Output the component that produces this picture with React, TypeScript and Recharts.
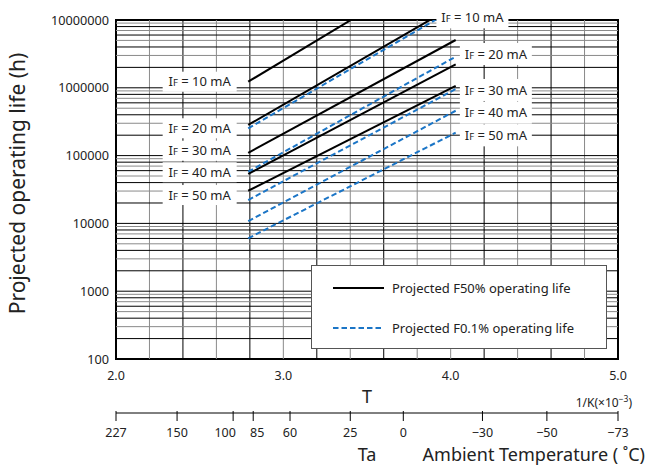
import React from 'react';
import {
  LineChart,
  Line,
  XAxis,
  YAxis,
  ReferenceLine,
  ReferenceArea,
  ReferenceDot,
  Legend,
  Label,
} from 'recharts';

const FONT = '"Noto Sans", "DejaVu Sans", sans-serif';
const BLUE = '#1b75c6';
const GRAY = '#8a8a8a';

// 1/T range of the plotted lines (x 10^-3 1/K)
const invTempRange = [2.79, 4.03];
const currentLabels = ['10', '20', '30', '40', '50'];
// Projected F50% operating life (h) at start / end of range
const f50Start = [1.23e6, 2.83e5, 1.1e5, 5.36e4, 3.03e4];
const f50End = [8.5e7, 1.66e7, 5.07e6, 2.22e6, 1.07e6];
// Projected F0.1% operating life (h)
const f01Start = [2.52e5, 5.78e4, 2.21e4, 1.08e4, 6.03e3];
const f01End = [1.5e7, 2.88e6, 9.6e5, 4.59e5, 2.18e5];

const xTicks = [2, 3, 4, 5];
const yTicks = [100, 1000, 10000, 100000, 1000000, 10000000];
// Ambient temperature scale as drawn (labels and their 1/K positions)
const taLabels = ['227', '150', '100', '85', '60', '25', '0', '\u221230', '\u221250', '\u221273'];
const taTickPos = [2.0, 2.365, 2.7, 2.82, 3.04, 3.4, 3.717, 4.19, 4.575, 5.0];
const taLabelShift = [0, 0, -8, 4, 0, 0, 0, 0, 0, 0];
const vGridValues = [2.2, 2.4, 2.6, 2.8, 3.0, 3.2, 3.4, 3.6, 3.8, 4.0, 4.2, 4.4, 4.6, 4.8];
const vGridDark = [false, true, false, true, false, true, false, true, false, false, true, false, true, false];
const decades = [100, 1000, 10000, 100000, 1000000];
const minorMultipliers = [2, 3, 4, 5, 6, 7, 8, 9];

const leftLabelX = 2.5;
const leftLabelLife = [1.23e6, 2.53e5, 1.18e5, 5.68e4, 2.62e4];
const rightLabelX = [4.13, 4.27, 4.27, 4.27, 4.27];
const rightLabelLife = [1.096e7, 3.15e6, 9.29e5, 4.3e5, 1.99e5];

const legendEntries = [
  { name: 'Projected F50% operating life', color: '#000', dashed: false },
  { name: 'Projected F0.1% operating life', color: BLUE, dashed: true },
];

const f50Series = currentLabels.map((_, i) => [
  { x: invTempRange[0], y: f50Start[i] },
  { x: invTempRange[1], y: f50End[i] },
]);
const f01Series = currentLabels.map((_, i) => [
  { x: invTempRange[0], y: f01Start[i] },
  { x: invTempRange[1], y: f01End[i] },
]);

const hGrid: { v: number; dark: boolean }[] = [];
decades.forEach((d) => {
  if (d > 100) hGrid.push({ v: d, dark: true });
  minorMultipliers.forEach((m) => hGrid.push({ v: d * m, dark: m % 2 === 0 }));
});

const IfLabel = (props: any) => {
  const { cx, cy, current, w = 74, h = 21 } = props;
  if (cx == null || cy == null) return null;
  return (
    <g>
      <rect x={cx - w / 2} y={cy - h / 2} width={w} height={h} fill="#fff" />
      <text
        x={cx}
        y={cy}
        dy="0.36em"
        textAnchor="middle"
        fontFamily={FONT}
        fontSize={13}
        fill="#222"
      >
        I<tspan fontSize={9.5}>F</tspan> = {current} mA
      </text>
    </g>
  );
};

const TaTick = (props: any) => {
  const { x, y, payload, index } = props;
  const i = typeof index === 'number' ? index : taTickPos.indexOf(payload.value);
  return (
    <g>
      <line x1={x} x2={x} y1={y - 2} y2={y + 8} stroke="#000" strokeWidth={1} />
      <text
        x={x + (taLabelShift[i] || 0)}
        y={y + 24}
        textAnchor="middle"
        fontFamily={FONT}
        fontSize={12.5}
        fill="#222"
      >
        {taLabels[i]}
      </text>
    </g>
  );
};

const LegendBox = () => (
  <div
    style={{
      position: 'relative',
      boxSizing: 'border-box',
      width: 296,
      height: 84,
      border: '1px solid #555',
      background: '#fff',
      fontFamily: FONT,
      fontSize: 13,
      color: '#222',
    }}
  >
    {legendEntries.map((e, i) => (
      <div
        key={e.name}
        style={{
          position: 'absolute',
          left: 21,
          top: 12 + i * 40,
          height: 20,
          display: 'flex',
          alignItems: 'center',
          whiteSpace: 'nowrap',
        }}
      >
        <svg width={51} height={20} style={{ marginRight: 8 }}>
          <line
            x1={0}
            x2={51}
            y1={10}
            y2={10}
            stroke={e.color}
            strokeWidth={2}
            strokeDasharray={e.dashed ? '5.5 3' : undefined}
          />
        </svg>
        <span>{e.name}</span>
      </div>
    ))}
  </div>
);

export default function App() {
  return (
    <div style={{ position: 'absolute', left: 0, top: 0 }}>
      <LineChart width={646} height={466} margin={{ top: 20, right: 28, left: 16, bottom: 23 }}>
        <XAxis
          dataKey="x"
          type="number"
          domain={[2, 5]}
          allowDataOverflow
          ticks={xTicks}
          interval={0}
          tickFormatter={(v: number) => v.toFixed(1)}
          axisLine={false}
          tickLine={false}
          tickSize={0}
          tickMargin={12}
          height={54}
          tick={{ fontFamily: FONT, fontSize: 12.5, fill: '#222' }}
        >
          <Label
            content={(p: any) => {
              const vb = p.viewBox || {};
              return (
                <g fontFamily={FONT} fill="#222">
                  <text x={vb.x + vb.width / 2} y={vb.y + 44} textAnchor="middle" fontSize={18}>
                    T
                  </text>
                  <text x={vb.x + vb.width + 14} y={vb.y + 48} textAnchor="end" fontSize={12}>
                    1/K(×10<tspan dy={-5} fontSize={8.5}>−3</tspan>
                    <tspan dy={5}>)</tspan>
                  </text>
                </g>
              );
            }}
          />
        </XAxis>
        <XAxis
          xAxisId="ta"
          dataKey="x"
          type="number"
          domain={[2, 5]}
          allowDataOverflow
          ticks={taTickPos}
          interval={0}
          axisLine={{ stroke: '#000', strokeWidth: 1 }}
          tickLine={false}
          tickSize={0}
          tickMargin={0}
          height={30}
          tick={(p: any) => <TaTick {...p} />}
        >
          <Label
            content={(p: any) => {
              const vb = p.viewBox || {};
              return (
                <g fontFamily={FONT} fill="#222" fontSize={18}>
                  <text x={vb.x + vb.width / 2} y={vb.y + 48} textAnchor="middle">
                    Ta
                  </text>
                  <text x={vb.x + vb.width + 27} y={vb.y + 48} textAnchor="end">
                    Ambient Temperature ( ˚C)
                  </text>
                </g>
              );
            }}
          />
        </XAxis>
        <YAxis
          type="number"
          scale="log"
          domain={[100, 10000000]}
          allowDataOverflow
          ticks={yTicks}
          interval={0}
          tickFormatter={(v: number) => String(Math.round(v))}
          axisLine={false}
          tickLine={false}
          tickSize={0}
          tickMargin={7}
          width={100}
          tick={{ fontFamily: FONT, fontSize: 12.7, fill: '#222' }}
        >
          <Label
            content={(p: any) => {
              const vb = p.viewBox || {};
              const cx = vb.x + 9;
              const cy = vb.y + vb.height / 2 - 6;
              return (
                <text
                  x={cx}
                  y={cy}
                  transform={`rotate(-90 ${cx} ${cy})`}
                  textAnchor="middle"
                  fontFamily={FONT}
                  fontSize={21}
                  fill="#222"
                >
                  Projected operating life (h)
                </text>
              );
            }}
          />
        </YAxis>

        {vGridValues.map((v, i) => (
          <ReferenceLine
            key={'vg' + v}
            x={v}
            stroke={vGridDark[i] ? '#000' : GRAY}
            strokeWidth={1}
          />
        ))}
        {hGrid.map((g) => (
          <ReferenceLine key={'hg' + g.v} y={g.v} stroke={g.dark ? '#000' : GRAY} strokeWidth={1} />
        ))}

        {f50Series.map((d, i) => (
          <Line
            key={'f50' + i}
            data={d}
            dataKey="y"
            type="linear"
            stroke="#000"
            strokeWidth={2}
            dot={false}
            isAnimationActive={false}
            legendType="none"
          />
        ))}
        {f01Series.map((d, i) => (
          <Line
            key={'f01' + i}
            xAxisId="ta"
            data={d}
            dataKey="y"
            type="linear"
            stroke={BLUE}
            strokeWidth={2}
            strokeDasharray="5.5 3"
            dot={false}
            isAnimationActive={false}
            legendType="none"
          />
        ))}

        <ReferenceArea
          x1={2}
          x2={5}
          y1={100}
          y2={10000000}
          fill="none"
          fillOpacity={0}
          stroke="#000"
          strokeWidth={2}
          ifOverflow="visible"
        />

        {currentLabels.map((c, i) => (
          <ReferenceDot
            key={'ll' + c}
            x={leftLabelX}
            y={leftLabelLife[i]}
            r={0}
            ifOverflow="visible"
            shape={(p: any) => <IfLabel cx={p.cx} cy={p.cy} current={c} w={74} h={20} />}
          />
        ))}
        {currentLabels.map((c, i) => (
          <ReferenceDot
            key={'rl' + c}
            x={rightLabelX[i]}
            y={rightLabelLife[i]}
            r={0}
            ifOverflow="visible"
            shape={(p: any) => <IfLabel cx={p.cx} cy={p.cy} current={c} w={72} h={22} />}
          />
        ))}

        <Legend
          layout="vertical"
          align="center"
          verticalAlign="middle"
          wrapperStyle={{ left: 311, top: 265, width: 296, height: 84 }}
          content={() => <LegendBox />}
        />
      </LineChart>
    </div>
  );
}
